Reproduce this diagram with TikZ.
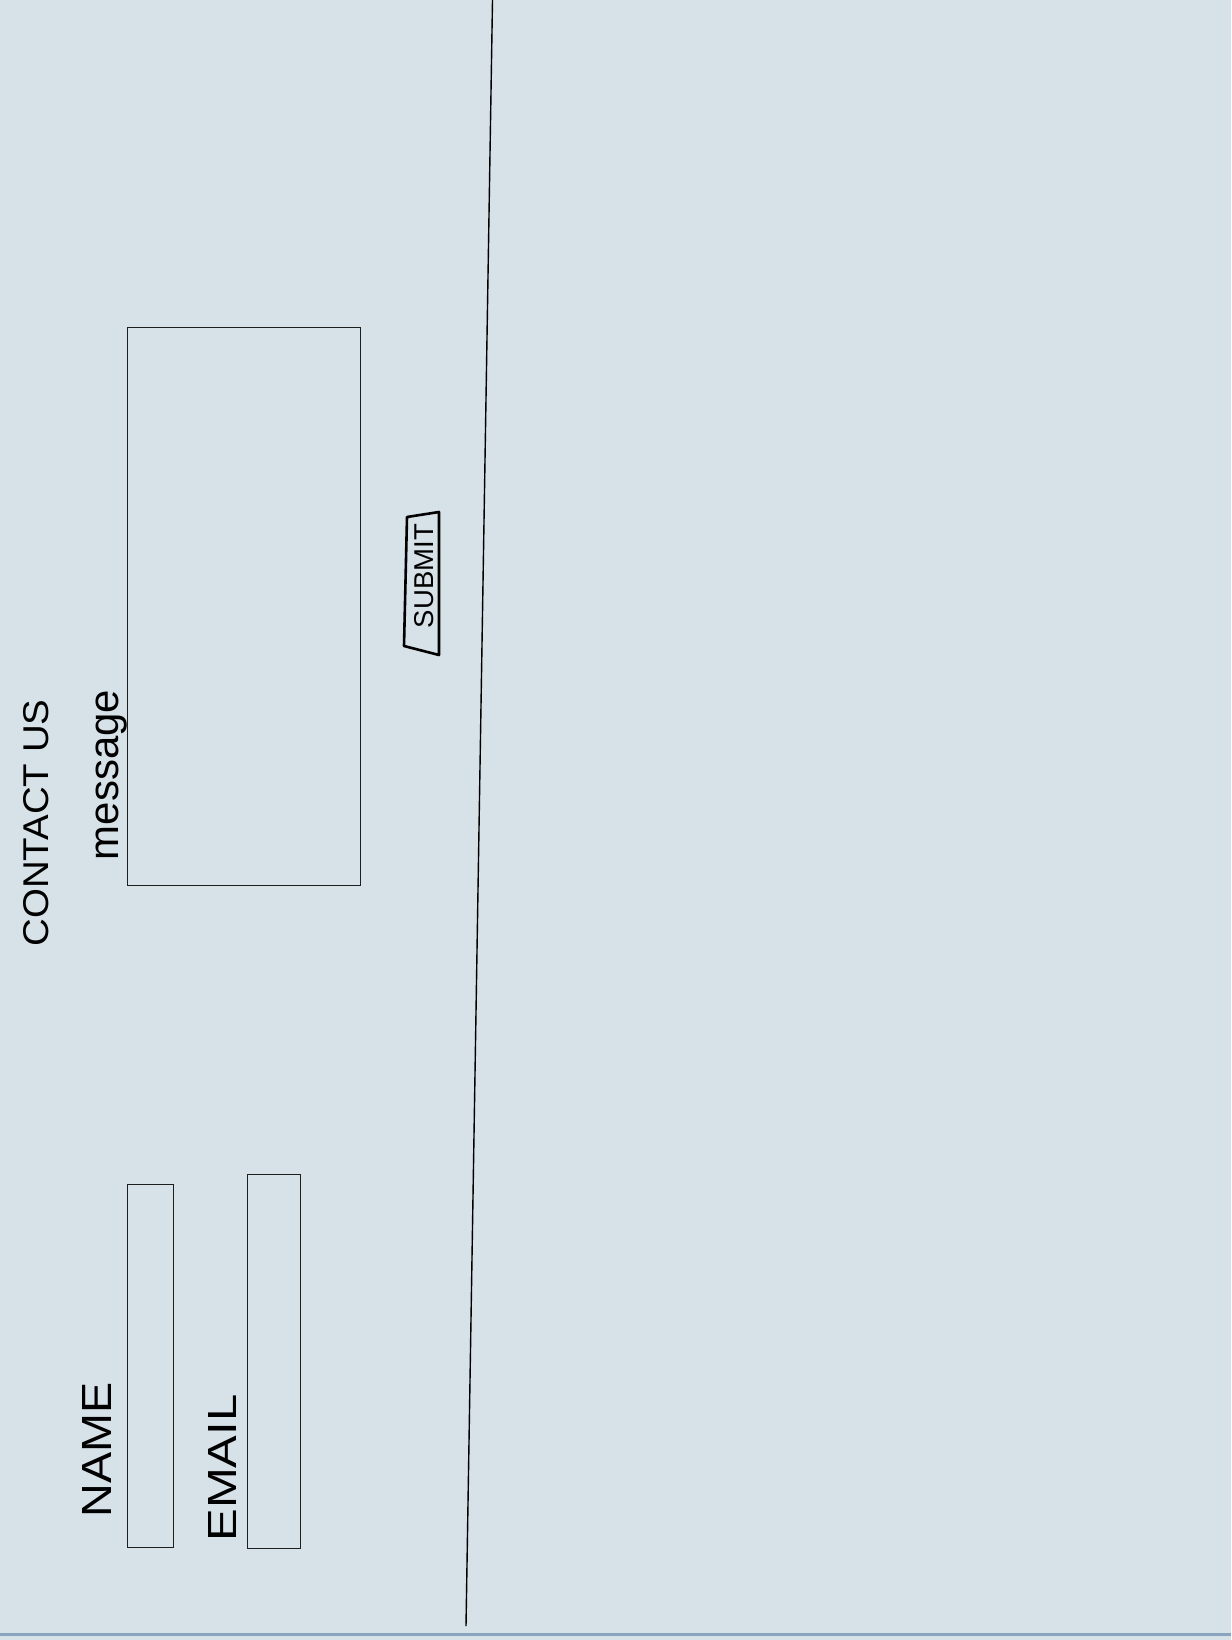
\documentclass[tikz,border=0pt]{standalone}
\usepackage{fontspec}
\setmainfont{Liberation Sans}
\usepackage{graphicx}
\definecolor{paper}{RGB}{214,225,232}
\definecolor{rule}{RGB}{138,163,190}
\definecolor{ink}{RGB}{30,30,30}
\begin{document}
\begin{tikzpicture}[x=1pt,y=-1pt,
  field/.style={draw=ink,line width=1.3pt},
  label/.style={rotate=90,inner sep=0pt,text=black}]
\useasboundingbox (0,0) rectangle (1231,1640);
\fill[paper] (0,0) rectangle (1231,1640);
% bottom rule
\draw[rule,line width=3pt] (0,1634) -- (1231,1634);
% vertical divider
\coordinate (dtop) at (492.5,0);
\coordinate (dbot) at (466,1626);
\draw[black,line width=1.4pt] (dtop) -- (dbot);
% title
\node[label] (title) at (36,823) {\resizebox{247pt}{25pt}{CONTACT US}};
% message
\node[label] (msglbl) at (112,775) {\resizebox{170pt}{!}{message}};
\node[field,minimum width=233pt,minimum height=558pt,inner sep=0pt] (msg) at (244.2,606.6) {};
% submit button
\draw[black,line width=2.6pt,line join=round] (407,517) -- (439,512) -- (439,655) -- (404,646) -- cycle;
\node[label] (submit) at (424,576) {\resizebox{104pt}{19pt}{SUBMIT}};
% name
\node[label] (namelbl) at (97,1450) {\resizebox{135pt}{29pt}{NAME}};
\node[field,minimum width=46pt,minimum height=363pt,inner sep=0pt] (name) at (150.8,1366.3) {};
% email
\node[label] (emaillbl) at (222,1468) {\resizebox{147pt}{28pt}{EMAIL}};
\node[field,minimum width=53pt,minimum height=374pt,inner sep=0pt] (email) at (274.3,1361.3) {};
\end{tikzpicture}
\end{document}
